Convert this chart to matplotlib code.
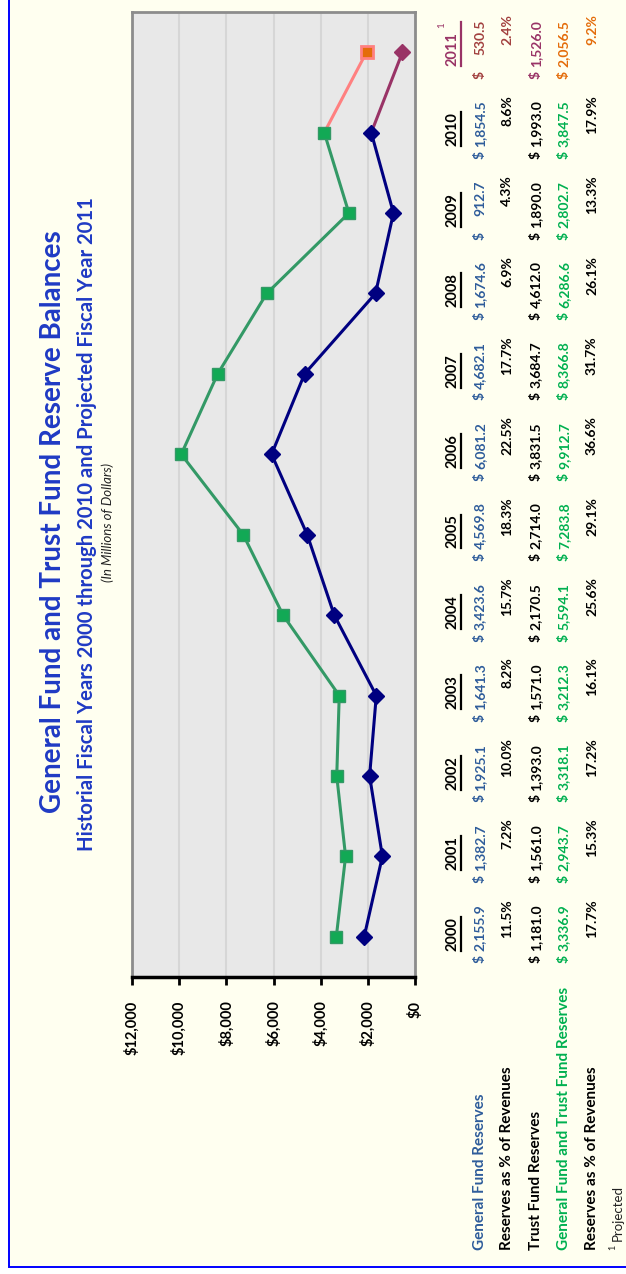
import matplotlib
matplotlib.use("Agg")
import matplotlib.pyplot as plt
import matplotlib.transforms as mtransforms
from matplotlib.patches import Rectangle
from matplotlib.lines import Line2D
from matplotlib.ticker import FuncFormatter

plt.rcParams["font.family"] = ["Lato", "DejaVu Sans"]

# ---- data (millions of dollars) ----
years = ["2000", "2001", "2002", "2003", "2004", "2005",
         "2006", "2007", "2008", "2009", "2010", "2011"]
general_fund = [2155.9, 1382.7, 1925.1, 1641.3, 3423.6, 4569.8,
                6081.2, 4682.1, 1674.6, 912.7, 1854.5, 530.5]
general_pct = [11.5, 7.2, 10.0, 8.2, 15.7, 18.3, 22.5, 17.7, 6.9, 4.3, 8.6, 2.4]
trust_fund = [1181.0, 1561.0, 1393.0, 1571.0, 2170.5, 2714.0,
              3831.5, 3684.7, 4612.0, 1890.0, 1993.0, 1526.0]
combined = [3336.9, 2943.7, 3318.1, 3212.3, 5594.1, 7283.8,
            9912.7, 8366.8, 6286.6, 2802.7, 3847.5, 2056.5]
combined_pct = [17.7, 15.3, 17.2, 16.1, 25.6, 29.1, 36.6, 31.7, 26.1, 13.3, 17.9, 9.2]
value_ticks = [0, 2000, 4000, 6000, 8000, 10000, 12000]
row_labels = ["General Fund Reserves", "Reserves as % of Revenues",
              "Trust Fund Reserves", "General Fund and Trust Fund Reserves",
              "Reserves as % of Revenues"]

# ---- colours ----
C_TITLE = "#1F3AC4"
C_GF = "#2E5C9A"
C_TOT = "#00B050"
C_NAVY = "#000080"
C_LINE_G = "#339966"
C_SQ_G = "#12A955"
C_PURPLE = "#993366"
C_SALMON = "#FF8080"
C_ORANGE = "#E46C0A"
C_BROWN = "#A2403F"

W, H = 626, 1274
fig = plt.figure(figsize=(W / 100, H / 100), dpi=100, facecolor="white")


def fx(px):
    return px / W


def fy(py):
    return 1 - py / H


# cream panel with a blue frame, kept behind the chart
fig.patches.append(Rectangle((fx(9), fy(1267)), 1.2, 1.2, transform=fig.transFigure,
                             facecolor="#FFFFF0", edgecolor="#0000FF", lw=1.4,
                             zorder=-5))

# ---- chart: values run right-to-left, years bottom-to-top ----
ax = fig.add_axes([fx(132), fy(977), fx(415) - fx(132), (977 - 12) / H])
ax.set_facecolor("#E8E8E8")
ax.set_xlim(12000, 0)
ax.set_ylim(-0.5, 11.5)
ax.set_xticks(value_ticks)
ax.xaxis.set_major_formatter(FuncFormatter(lambda v, p: "${:,.0f}".format(v)))
ax.tick_params(axis="x", direction="out", length=6, width=2, pad=11,
               labelsize=10.5, labelrotation=90)
for lab in ax.get_xticklabels():
    lab.set_fontweight("bold")
ax.set_yticks([])
ax.grid(axis="x", color="#D6D6D6", lw=1.5)
ax.set_axisbelow(True)
for side in ("left", "top", "right"):
    ax.spines[side].set_color("#8C8C8C")
    ax.spines[side].set_linewidth(2)
ax.spines["bottom"].set_color("black")
ax.spines["bottom"].set_linewidth(2.5)

idx = list(range(len(years)))
# projected 2011 segments
ax.plot(combined[10:], idx[10:], color=C_SALMON, lw=2.2, zorder=3)
ax.plot(combined[11:], idx[11:], ls="none", marker="s", ms=8, mfc=C_ORANGE,
        mec=C_SALMON, mew=2, zorder=4)
ax.plot(general_fund[10:], idx[10:], color=C_PURPLE, lw=2.2, zorder=3)
ax.plot(general_fund[11:], idx[11:], ls="none", marker="D", ms=8, mfc=C_PURPLE,
        mec=C_PURPLE, zorder=4)
# historical series
ax.plot(combined[:11], idx[:11], color=C_LINE_G, lw=2.2, marker="s", ms=8,
        mfc=C_SQ_G, mec=C_LINE_G, mew=1, zorder=5)
ax.plot(general_fund[:11], idx[:11], color=C_NAVY, lw=2.2, marker="D", ms=8,
        mfc=C_NAVY, mec=C_NAVY, zorder=5)

# ---- titles ----
fig.text(fx(53), fy(522), "General Fund and Trust Fund Reserve Balances",
         rotation=90, ha="center", va="center", fontsize=20, fontweight="bold",
         color=C_TITLE)
fig.text(fx(87), fy(524),
         "Historial Fiscal Years 2000 through 2010 and Projected Fiscal Year 2011",
         rotation=90, ha="center", va="center", fontsize=14.6, fontweight="bold",
         color=C_TITLE)
fig.text(fx(108), fy(523), "(In Millions of Dollars)", rotation=90, ha="center",
         va="center", fontsize=9.5, fontstyle="italic", color="#222222")

# ---- data table under the chart ----
trans = mtransforms.blended_transform_factory(fig.transFigure, ax.transData)
TXT = dict(transform=trans, rotation=90, rotation_mode="anchor", va="center",
           fontweight="bold", fontsize=10, clip_on=False)

row_x = [480, 507, 536, 564, 592]
header_x = 452


def money(x_px, i, val, color):
    ax.text(fx(x_px), i - 0.28, "$", ha="center", color=color, **TXT)
    ax.text(fx(x_px), i + 0.40, "{:,.1f}".format(val), ha="right", color=color, **TXT)


def pct(x_px, i, val, color):
    ax.text(fx(x_px), i + 0.47, "{:.1f}%".format(val), ha="right", color=color, **TXT)


headers = []
for i, yr in enumerate(years):
    last = i == len(years) - 1
    hcol = C_PURPLE if last else "black"
    headers.append(ax.text(fx(header_x), i + 0.04, yr, ha="center", color=hcol,
                           **{**TXT, "fontsize": 10.5}))
    money(row_x[0], i, general_fund[i], C_BROWN if last else C_GF)
    pct(row_x[1], i, general_pct[i], C_BROWN if last else "black")
    money(row_x[2], i, trust_fund[i], C_PURPLE if last else "black")
    money(row_x[3], i, combined[i], C_ORANGE if last else C_TOT)
    pct(row_x[4], i, combined_pct[i], C_ORANGE if last else "black")

sup = ax.text(fx(442), 11 + 0.34, "1", transform=trans, rotation=90,
              rotation_mode="anchor", ha="center", va="center", fontsize=7,
              color=C_PURPLE, clip_on=False)

label_colors = [C_GF, "black", "black", C_TOT, "black"]
for x_px, lab, col in zip(row_x, row_labels, label_colors):
    fig.text(fx(x_px), fy(1250), lab, rotation=90, rotation_mode="anchor",
             ha="left", va="center", fontsize=11, fontweight="bold", color=col)

fig.text(fx(613), fy(1250), "1", rotation=90, rotation_mode="anchor", ha="left",
         va="center", fontsize=6.5, color="#222222")
fig.text(fx(618), fy(1241), "Projected", rotation=90, rotation_mode="anchor",
         ha="left", va="center", fontsize=9.5, color="#222222")

# underline the year headers
fig.canvas.draw()
inv = fig.transFigure.inverted()
for i, t in enumerate(headers):
    bb = t.get_window_extent()
    top = bb.y1
    if i == len(headers) - 1:
        top = sup.get_window_extent().y1
    x = bb.x1 + 2
    (x0, y0) = inv.transform((x, bb.y0))
    (x1, y1) = inv.transform((x, top))
    fig.lines.append(Line2D([x0, x1], [y0, y1], transform=fig.transFigure,
                            color=t.get_color(), lw=1.6))

fig.savefig("out.png", dpi=100, facecolor=fig.get_facecolor())
